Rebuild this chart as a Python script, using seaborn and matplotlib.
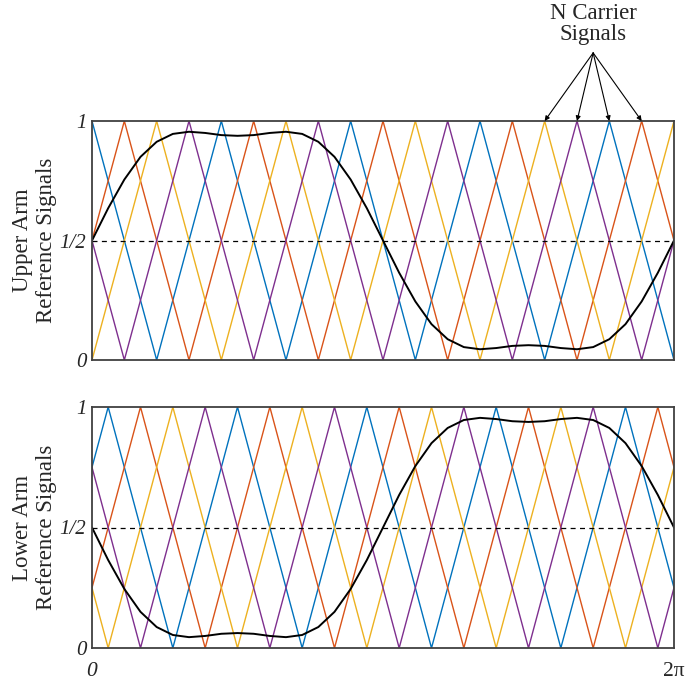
import matplotlib
matplotlib.use("Agg")
import matplotlib.pyplot as plt
import seaborn as sns

# ---- data (phase angle of the fundamental in degrees, signal level) ----
# carrier vertices, upper arm
up_blue_x = [0, 40, 80, 120, 160, 200, 240, 280, 320, 360]
up_blue_y = [1, 0, 1, 0, 1, 0, 1, 0, 1, 0]
up_orange_x = [0, 20, 60, 100, 140, 180, 220, 260, 300, 340, 360]
up_orange_y = [0.5, 1, 0, 1, 0, 1, 0, 1, 0, 1, 0.5]
up_yellow_x = [0, 40, 80, 120, 160, 200, 240, 280, 320, 360]
up_yellow_y = [0, 1, 0, 1, 0, 1, 0, 1, 0, 1]
up_purple_x = [0, 20, 60, 100, 140, 180, 220, 260, 300, 340, 360]
up_purple_y = [0.5, 0, 1, 0, 1, 0, 1, 0, 1, 0, 0.5]

# carrier vertices, lower arm
lo_blue_x = [0, 10, 50, 90, 130, 170, 210, 250, 290, 330, 360]
lo_blue_y = [0.75, 1, 0, 1, 0, 1, 0, 1, 0, 1, 0.25]
lo_orange_x = [0, 30, 70, 110, 150, 190, 230, 270, 310, 350, 360]
lo_orange_y = [0.25, 1, 0, 1, 0, 1, 0, 1, 0, 1, 0.75]
lo_yellow_x = [0, 10, 50, 90, 130, 170, 210, 250, 290, 330, 360]
lo_yellow_y = [0.25, 0, 1, 0, 1, 0, 1, 0, 1, 0, 0.75]
lo_purple_x = [0, 30, 70, 110, 150, 190, 230, 270, 310, 350, 360]
lo_purple_y = [0.75, 0, 1, 0, 1, 0, 1, 0, 1, 0, 0.25]

# reference signals
ref_deg = [0, 10, 20, 30, 40, 50, 60, 70, 80, 90, 100, 110, 120, 130, 140, 150,
           160, 170, 180, 190, 200, 210, 220, 230, 240, 250, 260, 270, 280, 290,
           300, 310, 320, 330, 340, 350, 360]
upper_ref = [0.5, 0.635, 0.755, 0.850, 0.913, 0.946, 0.955, 0.950, 0.941, 0.938,
             0.941, 0.950, 0.955, 0.946, 0.913, 0.850, 0.755, 0.635, 0.5, 0.365,
             0.245, 0.150, 0.087, 0.054, 0.045, 0.050, 0.059, 0.062, 0.059, 0.050,
             0.045, 0.054, 0.087, 0.150, 0.245, 0.365, 0.5]
lower_ref = [0.5, 0.365, 0.245, 0.150, 0.087, 0.054, 0.045, 0.050, 0.059, 0.062,
             0.059, 0.050, 0.045, 0.054, 0.087, 0.150, 0.245, 0.365, 0.5, 0.635,
             0.755, 0.850, 0.913, 0.946, 0.955, 0.950, 0.941, 0.938, 0.941, 0.950,
             0.955, 0.946, 0.913, 0.850, 0.755, 0.635, 0.5]

# carriers pointed at by the annotation (peaks near the end of the upper plot)
arrow_deg = [280, 300, 320, 340]

carrier_colors = ["#0072BD", "#D95319", "#EDB120", "#7E2F8E"]

sns.set_style("white")
plt.rcParams["font.family"] = ["Liberation Serif", "DejaVu Serif"]

fig = plt.figure(figsize=(6.91, 6.81), dpi=100)
ax_up = fig.add_axes([92 / 691, 1 - 360 / 681, 582 / 691, 239 / 681])
ax_lo = fig.add_axes([92 / 691, 1 - 648 / 681, 582 / 691, 241 / 681])


def draw_panel(ax, carriers, ref_y, label):
    for (cx, cy), col in zip(carriers, carrier_colors):
        sns.lineplot(x=cx, y=cy, color=col, lw=1.0, ax=ax, estimator=None)
    ax.axhline(0.5, color="black", ls=(0, (4, 3.5)), lw=0.9)
    sns.lineplot(x=ref_deg, y=ref_y, color="black", lw=1.4, ax=ax, estimator=None)

    ax.set_xlim(0, 360)
    ax.set_ylim(0, 1)
    ax.set_yticks([0, 0.5, 1])
    ax.set_yticklabels(["0", "1/2", "1"], fontstyle="italic", fontsize=15,
                       va="center_baseline")
    ax.tick_params(length=0, pad=4)
    ax.set_ylabel(label, fontsize=16.5, labelpad=2)
    for s in ax.spines.values():
        s.set_color("#404040")
        s.set_linewidth(1.3)


draw_panel(ax_up,
           [(up_blue_x, up_blue_y), (up_orange_x, up_orange_y),
            (up_yellow_x, up_yellow_y), (up_purple_x, up_purple_y)],
           upper_ref, "Upper Arm\nReference Signals")
draw_panel(ax_lo,
           [(lo_blue_x, lo_blue_y), (lo_orange_x, lo_orange_y),
            (lo_yellow_x, lo_yellow_y), (lo_purple_x, lo_purple_y)],
           lower_ref, "Lower Arm\nReference Signals")

ax_up.set_xticks([])
ax_up.set_xlabel(None)
ax_lo.set_xticks([0, 360])
xl = ax_lo.set_xticklabels(["0", "2π"], fontsize=15.5)
xl[0].set_fontstyle("italic")
ax_lo.tick_params(axis="x", pad=10)
ax_lo.set_xlabel(None)

# annotation
ax_up.text(310, 1.339, "N Carrier\nSignals", ha="center", va="baseline",
           fontsize=16.5, linespacing=1.0, clip_on=False)
for d in arrow_deg:
    ax_up.annotate("", xy=(d, 1.0), xytext=(310, 1.285), annotation_clip=False,
                   arrowprops=dict(arrowstyle="-|>", color="black", lw=0.8,
                                   mutation_scale=7, shrinkA=0, shrinkB=0))

fig.savefig("out.png", dpi=100)
